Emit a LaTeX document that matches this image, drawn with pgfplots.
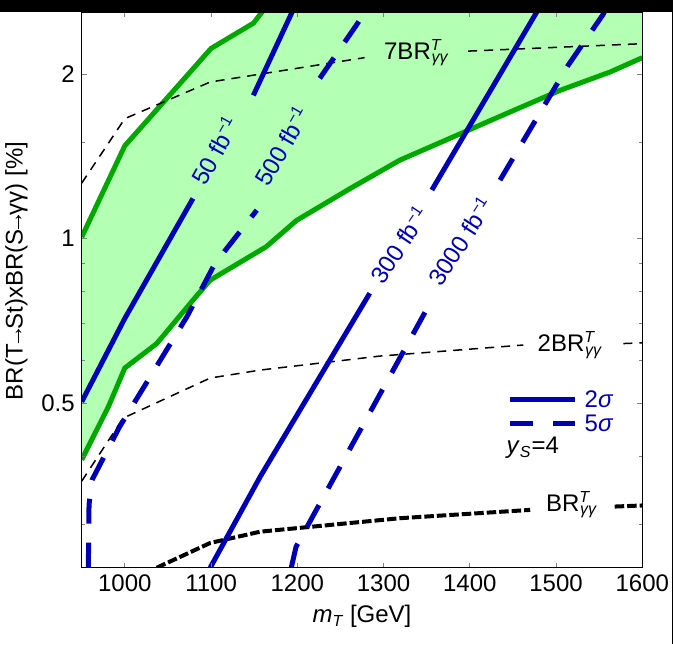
\documentclass[border=0pt]{standalone}
\usepackage{fontspec}
\setmainfont{Liberation Sans}
\usepackage{pgfplots}
\pgfplotsset{compat=1.18}

\definecolor{bandfill}{RGB}{179,255,179}
\definecolor{bandline}{RGB}{0,168,0}
\definecolor{sigblue}{RGB}{0,0,185}

% BR^T_{gamma gamma} in text font
\newcommand{\brT}{BR\textsuperscript{\itshape T}\kern-0.42em\textsubscript{\itshape γγ}}
\newcommand{\lumi}[1]{#1 fb\textsuperscript{−1}}
\newcommand{\arr}{\kern-0.2em→\kern-0.2em}

\begin{document}
\begin{tikzpicture}[font=\fontsize{12}{14}\selectfont]
\path[use as bounding box] (0,0) rectangle (336.5pt,322pt);
\begin{axis}[
    at={(40.85pt,38.15pt)}, anchor=south west,
    scale only axis, width=280.3pt, height=277.85pt,
    xmin=950, xmax=1600,
    ymode=log, ymin=0.25, ymax=2.6,
    xtick={1000,1100,...,1600},
    ytick={0.5,1,2}, yticklabels={0.5,1,2},
    minor ytick={0.3,0.4,0.6,0.7,0.8,0.9,1.5},
    tick align=inside, xtick pos=both, ytick pos=both,
    major tick length=2.5pt, minor tick length=1.5pt,
    tick style={gray, line width=0.4pt},
    axis line style={line width=0.75pt},
    axis on top,
    /pgf/number format/assume math mode=true,
    /pgf/number format/1000 sep={},
    ticklabel style={font=\fontsize{12}{14}\selectfont},
    label style={font=\fontsize{12}{14}\selectfont},
    xlabel={\textit{m}\textsubscript{\itshape T} [GeV]},
    ylabel={BR(T\arr St)xBR(S\arr γγ) [\%]},
    every axis y label/.append style={at={(ticklabel cs:0.534)}},
    unbounded coords=jump,
]
% allowed band
\addplot[fill=bandfill, draw=none] coordinates {
    (950,1.007) (1000,1.48) (1100,2.23) (1149,2.48) (1175,2.8) (1600,2.8)
    (1600,2.145) (1563,2.02) (1505,1.87) (1435,1.675) (1377,1.527) (1319,1.393)
    (1261,1.235) (1199,1.08) (1164,0.967) (1099,0.84) (1079,0.772) (1037,0.643)
    (1000,0.58) (981,0.493) (950,0.394)
} -- cycle;
\addplot[bandline, line width=2.5pt] coordinates {
    (950,1.007) (1000,1.48) (1100,2.23) (1149,2.48) (1175,2.8)
};
\addplot[bandline, line width=2.5pt] coordinates {
    (950,0.394) (981,0.493) (1000,0.58) (1037,0.643) (1079,0.772) (1099,0.84)
    (1164,0.967) (1199,1.08) (1261,1.235) (1319,1.393) (1377,1.527) (1435,1.675)
    (1505,1.87) (1563,2.02) (1600,2.145)
};

% BR reference lines
\addplot[black, line width=0.75pt, dash pattern=on 4.5pt off 3.5pt] coordinates {
    (950,1.264) (1000,1.659) (1099,1.936) (1278,2.145) (1300,nan) (1398,2.205) (1600,2.275)
};
\addplot[black, line width=0.75pt, dash pattern=on 4.5pt off 3.5pt] coordinates {
    (950,0.36) (998,0.4695) (1099,0.556) (1157,0.575) (1296,0.61) (1462,0.639)
    (1500,nan) (1578,0.643) (1600,0.645)
};
\addplot[black, line width=2pt, dash pattern=on 4.75pt off 1.5pt] coordinates {
    (1037,0.25) (1099,0.2775) (1157,0.291) (1319,0.308) (1470,0.319)
    (1500,nan) (1568,0.3235) (1600,0.325)
};

% reach lines
\addplot[sigblue, line width=2.5pt] coordinates {
    (950,0.503) (1000,0.715) (1079,1.185) (1110,nan) (1149,1.83) (1194,2.6) (1200,2.7)
};
\addplot[sigblue, line width=2.5pt, dash pattern=on 12.5pt off 9.5pt] coordinates {
    (957.7,0.25) (958.5,0.326) (962,0.362) (994,0.453) (1072,0.72) (1104.5,0.901)
    (1153,1.128) (1190,nan) (1226,1.966) (1270,2.48) (1285,2.7)
};
\addplot[sigblue, line width=2.5pt] coordinates {
    (1099,0.25) (1157,0.367) (1284,0.795) (1320,nan) (1356,1.228) (1477,2.59) (1485,2.7)
};
\addplot[sigblue, line width=2.5pt, dash pattern=on 12.5pt off 9.5pt] coordinates {
    (1193,0.25) (1198.5,0.273) (1354,0.763) (1390,nan) (1435,1.28) (1514,2.077)
    (1555,2.58) (1560,2.7)
};

% key
\addplot[sigblue, line width=2.5pt] coordinates {(1447,0.509) (1522,0.509)};
\addplot[sigblue, line width=2.5pt, dash pattern=on 11.5pt off 10pt] coordinates {(1447,0.46) (1522,0.46)};
\node[sigblue, anchor=west] at (axis cs:1525,0.509) {2\textit{σ}};
\node[sigblue, anchor=west] at (axis cs:1525,0.46) {5\textit{σ}};
\node at (axis cs:1473,0.4146) {\textit{y}\textsubscript{\itshape S}=4};

% line labels
\node[sigblue, rotate=61] at (axis cs:1104.5,1.452) {\lumi{50}};
\node[sigblue, rotate=60] at (axis cs:1182,1.48) {\lumi{500}};
\node[sigblue, rotate=56] at (axis cs:1318,0.977) {\lumi{300}};
\node[sigblue, rotate=57] at (axis cs:1389,0.991) {\lumi{3000}};
\node at (axis cs:1338,2.19) {7\brT};
\node at (axis cs:1516,0.639) {2\brT};
\node at (axis cs:1518,0.326) {\brT};
\end{axis}
\fill[black] (0,316pt) rectangle (336.5pt,322pt);
\fill[black] (335.8pt,0) rectangle (336.5pt,322pt);
\end{tikzpicture}
\end{document}
